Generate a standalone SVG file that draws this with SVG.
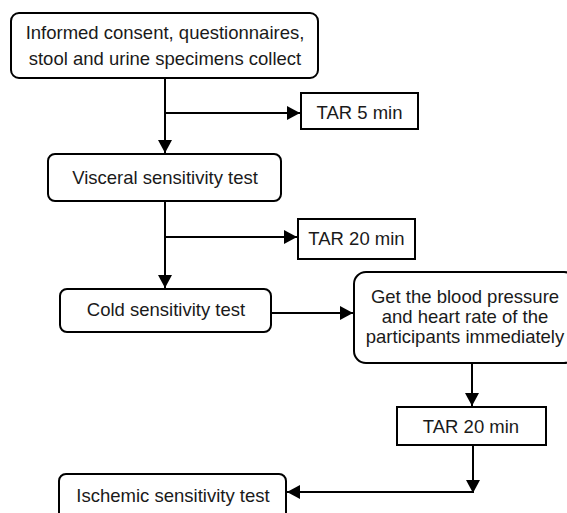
<svg xmlns="http://www.w3.org/2000/svg" width="567" height="513" viewBox="0 0 567 513">
<style>
.box{fill:#fff;stroke:#000;stroke-width:2}
.t{font-family:"Liberation Sans",Arial,sans-serif;font-size:18.5px;fill:#1a1a1a;text-anchor:middle}
.c{fill:none;stroke:#000;stroke-width:2}
</style>
<defs>
<marker id="ah" markerUnits="userSpaceOnUse" markerWidth="13" markerHeight="14" refX="13" refY="7" orient="auto">
<path d="M0,0 L13,7 L0,14 z" fill="#000"/>
</marker>
</defs>
<rect width="567" height="513" fill="#fff"/>
<g id="connectors">
<path class="c" d="M165,78 V153" marker-end="url(#ah)"/>
<path class="c" d="M165,113 H300" marker-end="url(#ah)"/>
<path class="c" d="M165,201 V288" marker-end="url(#ah)"/>
<path class="c" d="M165,237 H297" marker-end="url(#ah)"/>
<path class="c" d="M271,313 H353" marker-end="url(#ah)"/>
<path class="c" d="M472,363 V406" marker-end="url(#ah)"/>
<path class="c" d="M473,445 V493" marker-end="url(#ah)"/>
<path class="c" d="M474,492 H287" marker-end="url(#ah)"/>
</g>
<g id="n1">
<rect class="box" x="11" y="13" width="307" height="65" rx="8"/>
<text class="t" x="165" y="39">Informed consent, questionnaires,</text>
<text class="t" x="165" y="65">stool and urine specimens collect</text>
</g>
<g id="n2">
<rect class="box" x="301" y="93" width="117" height="36"/>
<text class="t" x="359.5" y="119">TAR 5 min</text>
</g>
<g id="n3">
<rect class="box" x="48" y="154" width="233" height="47" rx="7"/>
<text class="t" x="165" y="184">Visceral sensitivity test</text>
</g>
<g id="n4">
<rect class="box" x="298" y="219" width="117" height="40"/>
<text class="t" x="356.5" y="245">TAR 20 min</text>
</g>
<g id="n5">
<rect class="box" x="60" y="289" width="211" height="43" rx="7"/>
<text class="t" x="166" y="316">Cold sensitivity test</text>
</g>
<g id="n6">
<rect class="box" x="354" y="272" width="222" height="91" rx="12"/>
<text class="t" x="465" y="303">Get the blood pressure</text>
<text class="t" x="465" y="323">and heart rate of the</text>
<text class="t" x="465" y="343">participants immediately</text>
</g>
<g id="n7">
<rect class="box" x="397" y="407" width="149" height="38"/>
<text class="t" x="471" y="433">TAR 20 min</text>
</g>
<g id="n8">
<rect class="box" x="59" y="474" width="227" height="46" rx="7"/>
<text class="t" x="173" y="502">Ischemic sensitivity test</text>
</g>
</svg>
